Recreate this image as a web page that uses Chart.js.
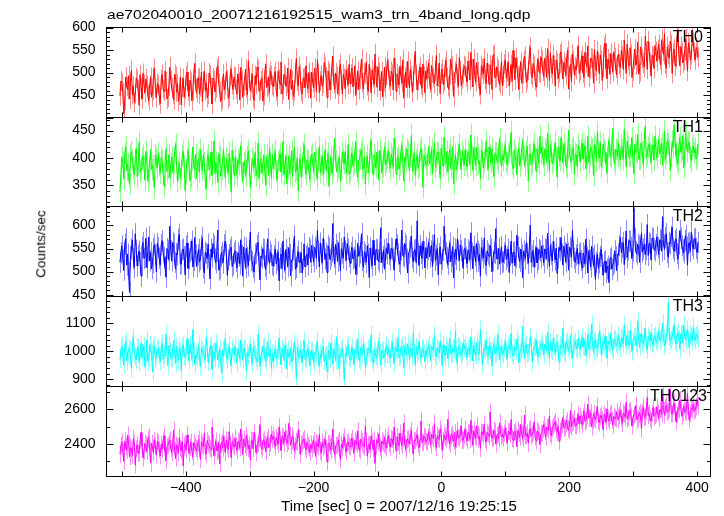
<!DOCTYPE html>
<html lang="en">
<head>
  <meta charset="UTF-8">
  <title>ae702040010 WAM light curve</title>
  <script src="https://cdn.jsdelivr.net/npm/chart.js"></script>
  <style>
    body { margin: 0; background: #fff; }
    #wrap { position: relative; width: 724px; height: 516px; font-family: "Liberation Sans", Arial, sans-serif; color: #000; }
    #wrap canvas { position: absolute; left: 0; top: 0; }
    .txt { position: absolute; white-space: nowrap; }
    #title { left: 107px; top: 9px; font-size: 12px; line-height: 12px; transform: scaleX(1.3); transform-origin: 0 0; }
    #ylab { left: 41px; top: 244px; font-size: 13.5px; line-height: 13.5px; transform: translate(-50%, -50%) rotate(-90deg); }
    #xlab { left: 399px; top: 498px; font-size: 15px; line-height: 15px; transform: translateX(-50%); }
    .plab { font-size: 16px; line-height: 16px; }
  </style>
</head>
<body>
  <div id="wrap">
    <canvas id="c0" width="724" height="516"></canvas>
    <canvas id="c1" width="724" height="516"></canvas>
    <canvas id="c2" width="724" height="516"></canvas>
    <canvas id="c3" width="724" height="516"></canvas>
    <canvas id="c4" width="724" height="516"></canvas>
    <div class="txt" id="title">ae702040010_20071216192515_wam3_trn_4band_long.qdp</div>
    <div class="txt" id="ylab">Counts/sec</div>
    <div class="txt" id="xlab">Time [sec] 0 = 2007/12/16 19:25:15</div>
  </div>

  <script>
    // time bins (sec from 2007/12/16 19:25:15)
    const binStart = -503;
    const binSize = 1.5;
    const xTickLabels = [-400, -200, 0, 200, 400];
    const xTickMarks = [-500, -400, -300, -200, -100, 0, 100, 200, 300, 400];

    const th0 = [
      448,481,475,456,408,437,490,469,462,493,441,478,505,451,470,433,452,488,483,462,427,495,466,441,498,474,455,486,471,450,437,472,489,445,460,491,509,466,444,476,
      472,449,431,484,496,463,458,503,480,441,445,470,512,482,466,452,439,496,491,457,475,436,450,489,428,468,487,445,463,492,501,460,447,483,478,437,459,498,520,465,
      455,486,489,452,468,501,436,479,503,460,477,444,451,499,494,465,430,488,482,457,466,509,515,476,458,435,440,483,497,461,471,502,484,442,447,493,508,474,462,490,
      490,463,452,497,478,439,511,482,445,470,483,507,466,451,526,487,459,477,497,444,438,493,474,512,505,458,462,481,488,436,449,498,519,467,471,489,456,503,494,472,
      468,491,502,459,447,503,485,474,523,452,461,496,492,469,476,510,440,485,507,462,483,447,459,499,531,481,470,513,496,458,452,487,488,466,515,476,464,500,478,443,
      501,478,466,510,489,457,528,497,455,481,494,469,477,522,512,490,444,503,498,461,482,514,536,475,463,499,491,452,470,507,519,484,452,496,487,464,506,489,473,518,
      475,496,510,468,492,515,449,483,503,462,486,508,530,477,463,499,497,524,471,458,518,490,455,506,489,474,541,493,467,513,500,459,481,502,446,480,512,466,494,527,
      509,484,470,503,496,461,532,511,458,497,487,472,514,493,477,528,443,489,501,466,525,480,466,507,492,456,480,519,547,495,461,482,498,512,473,465,519,491,455,504,
      486,508,521,477,462,516,499,489,475,503,538,470,490,521,453,497,508,474,481,512,527,488,469,463,495,530,514,482,447,498,502,519,488,469,533,505,471,486,497,515,
      512,491,479,526,505,483,545,508,468,530,494,479,522,502,486,469,451,515,509,496,531,484,475,521,498,473,517,506,462,538,540,488,489,513,506,481,473,499,524,470,
      493,519,528,487,501,524,470,498,517,480,549,511,484,533,510,492,462,505,523,476,497,527,536,509,478,486,505,540,556,496,489,520,514,482,468,512,530,501,499,535,
      527,503,491,532,515,489,553,520,482,544,509,497,538,516,470,528,521,486,499,541,546,507,486,523,512,494,534,549,463,511,518,480,541,526,495,513,506,535,560,498,
      504,526,537,499,489,545,522,513,559,490,508,532,531,518,476,551,515,503,548,524,497,539,528,482,511,557,565,509,486,530,520,496,543,519,502,546,533,510,495,536,
      541,518,510,549,536,507,572,529,498,563,527,515,555,540,489,503,530,552,516,524,568,496,502,557,539,531,521,512,581,546,507,570,545,523,492,538,534,509,560,547,
      525,551,563,528,517,573,548,540,586,519,509,557,541,532,570,562,498,544,552,515,531,579,590,536,515,558,546,521,527,549,575,533,503,566,556,527,538,581,569,545,
      528,556,551,534
    ];
    const th1 = [
      338,371,402,392,361,408,420,377,389,364,352,403,411,396,383,369,397,417,366,388,428,374,380,398,404,385,359,412,393,357,371,396,415,379,386,367,345,405,399,382,
      409,386,372,401,395,370,348,392,417,375,381,406,363,389,402,373,389,411,425,395,357,378,391,362,376,404,412,385,340,371,398,414,384,358,366,397,420,383,379,407,
      362,393,398,374,415,389,377,405,391,360,343,396,406,378,385,411,368,397,431,371,392,383,355,408,401,366,379,392,416,385,364,400,388,372,409,381,337,414,394,368,
      401,382,369,397,388,408,422,373,357,391,394,366,378,402,413,384,346,372,399,393,383,410,367,379,427,362,390,399,372,387,405,376,350,404,387,368,418,392,363,406,
      380,398,412,376,359,393,396,407,374,386,430,369,385,404,352,381,404,370,391,413,366,395,419,374,378,401,340,388,399,365,383,410,424,382,370,397,395,375,361,402,
      407,389,375,410,398,379,362,396,421,373,387,404,369,392,414,377,393,408,348,386,402,371,381,415,436,394,374,383,396,402,358,378,411,397,389,412,372,387,425,370,
      376,400,409,385,390,413,428,376,365,396,398,410,415,379,381,402,352,391,404,373,386,417,432,388,370,405,397,382,411,394,359,414,401,372,384,408,420,387,392,399,
      412,393,381,407,399,384,436,415,370,398,403,379,388,411,424,390,357,402,395,417,410,386,377,404,441,376,392,409,368,395,406,381,385,413,418,394,346,405,400,388,
      386,404,419,389,402,415,371,397,428,383,395,410,410,392,363,418,405,385,438,399,389,412,374,405,416,380,398,421,352,394,407,378,391,408,425,396,380,413,403,387,
      415,396,384,412,406,388,442,403,377,419,398,386,420,407,389,394,362,414,410,382,395,401,431,397,379,420,404,391,417,384,366,409,408,398,392,416,436,393,385,405,
      396,411,424,393,388,405,410,420,447,389,381,414,405,398,369,409,418,385,399,416,433,402,386,395,412,421,358,406,407,388,392,413,426,399,375,417,402,390,440,408,
      419,402,387,417,408,393,445,410,376,424,412,389,396,408,428,399,365,420,404,395,437,411,391,426,410,387,382,415,451,403,398,392,415,419,370,407,406,384,423,413,
      393,415,427,398,412,422,380,406,439,391,405,419,416,403,368,425,420,394,447,411,399,428,384,400,425,413,410,389,373,418,432,405,401,424,454,396,389,416,414,402,
      428,405,396,422,415,399,452,416,383,430,419,402,404,418,437,394,371,425,412,409,443,397,398,427,421,411,385,436,458,400,407,419,426,408,392,423,416,396,440,414,
      400,421,434,407,418,426,386,412,449,398,409,433,425,415,377,403,430,419,461,428,404,395,389,424,437,410,415,441,382,406,446,418,411,429,428,401,395,417,422,409,
      417,398,404,426
    ];
    const th2 = [
      520,541,556,525,503,560,571,514,538,497,455,532,549,568,527,509,582,546,512,535,544,519,490,553,563,528,531,572,508,544,575,523,541,506,519,550,558,537,499,561,
      552,529,514,558,567,541,530,511,488,550,545,526,598,545,523,563,559,520,506,539,536,570,581,516,517,547,549,532,493,555,562,507,528,543,547,566,510,524,574,535,
      511,537,548,521,526,556,573,508,497,542,539,528,560,515,484,549,531,561,555,527,519,544,590,503,507,533,542,518,524,558,566,538,492,525,536,547,553,511,515,540,
      545,522,508,541,533,516,569,535,490,553,527,509,551,531,513,546,586,524,521,510,499,538,540,557,563,519,482,534,529,549,548,512,505,537,571,526,518,543,536,515,
      512,534,549,517,525,543,480,529,538,506,566,521,503,548,531,511,552,537,491,525,524,549,577,505,509,532,544,519,520,541,497,527,560,510,533,538,514,552,547,520,
      557,535,521,553,546,528,589,544,510,562,538,519,572,547,527,539,498,556,551,526,534,543,604,531,516,559,545,522,563,538,502,550,540,529,575,545,524,561,548,533,
      518,541,553,527,530,546,494,515,561,533,540,556,582,524,509,543,537,520,556,538,487,551,529,512,568,536,514,548,547,526,521,542,595,519,532,547,505,531,550,539,
      562,537,526,551,549,529,503,544,571,558,538,522,516,547,590,535,532,561,555,527,497,540,544,553,577,531,521,546,548,519,610,538,513,556,539,528,566,543,508,552,
      529,548,564,532,545,557,511,541,580,524,536,550,493,539,553,516,527,546,598,559,541,530,515,544,562,521,534,553,486,538,549,526,571,545,524,558,545,533,507,549,
      550,531,518,547,543,526,584,540,506,555,535,521,561,544,522,537,490,552,546,529,573,518,513,545,538,533,557,548,499,524,542,539,593,527,528,550,516,541,554,520,
      521,540,557,526,532,549,498,535,566,518,541,543,512,531,579,554,530,522,549,537,487,545,536,528,563,539,518,552,601,520,534,546,509,533,552,519,526,548,545,530,
      556,535,519,549,547,528,583,544,511,557,538,523,566,542,525,551,496,530,552,546,574,538,514,555,541,521,560,540,503,553,548,532,589,545,529,520,536,550,517,537,
      541,524,508,540,534,517,570,531,497,546,526,510,555,529,512,536,483,520,538,507,519,533,549,515,492,521,523,498,506,512,476,527,531,505,514,519,545,532,502,538,
      536,556,574,541,552,563,515,548,588,530,547,567,565,552,528,544,636,571,543,538,559,555,520,566,583,542,549,559,537,547,602,535,562,560,525,573,571,549,545,558,
      575,552,537,569,566,545,619,558,548,574,582,541,531,563,560,577,596,550,544,566,571,539,527,560,589,572,556,547,540,568,578,553,514,561,563,544,585,557,549,570,
      572,550,541,563
    ];
    const th3 = [
      972,1008,1018,979,951,1022,1034,965,990,1011,1006,984,938,1027,1049,992,981,969,1012,1015,960,1001,1027,978,995,1019,943,988,1041,963,977,1024,1003,996,925,1010,1020,973,986,1005,
      1010,985,963,1016,1029,971,985,1004,1062,988,948,1021,1001,976,974,1009,1038,994,957,1018,992,968,1015,999,931,1013,1023,982,979,1006,1046,990,966,1025,997,975,1078,1002,952,987,
      975,1002,1021,978,946,1013,1003,991,988,970,1052,1007,961,985,1014,1020,935,996,997,973,1030,1010,969,987,1008,965,921,1004,984,1017,1043,983,972,998,1019,976,950,1011,1001,989,
      1016,981,959,1009,994,973,1040,997,971,1012,1007,968,928,994,983,1005,1025,979,956,1016,1003,990,977,963,1061,1002,944,986,992,1011,1019,975,962,999,1035,982,987,1008,940,992,
      965,992,1008,975,981,1003,1047,984,953,1010,996,971,1022,997,937,1006,979,980,1013,962,968,999,1031,987,902,1015,990,976,1005,993,957,1008,1039,970,974,995,1010,983,948,1001,
      1002,978,961,995,989,1007,1036,970,947,991,975,1013,1018,965,983,988,926,1003,997,974,1029,982,956,1009,994,968,1052,996,938,985,979,1005,1011,972,895,993,986,1012,1023,980,
      971,996,1014,981,953,1008,1005,990,1044,973,966,1015,992,987,1027,1001,940,978,983,1011,1009,994,1059,972,961,1006,998,983,977,1018,1036,992,950,1004,1002,976,986,999,1020,988,
      1013,989,975,1007,1032,984,958,1015,1004,998,1050,977,983,1010,1019,993,941,1021,996,985,1027,1002,969,1012,1008,981,1067,995,952,1016,990,1003,1035,987,976,1009,1011,992,963,1005,
      985,1009,1024,992,967,1018,1011,1001,1058,986,979,1013,1003,995,1036,1007,948,1022,997,984,1019,1004,972,1016,1045,990,991,1011,1007,997,1072,982,958,1019,1014,1003,983,994,1030,1010,
      1021,998,978,1014,1009,990,1051,1007,965,1023,996,985,1033,1011,987,1000,1078,1018,955,993,1012,1006,1040,988,981,1020,1004,999,947,1013,1027,991,993,1008,1061,1002,970,1016,1015,995,
      990,1012,1035,998,972,1021,1018,1005,1064,992,984,1017,1011,1003,1043,1026,958,996,1006,1014,1089,1001,977,1019,1024,990,995,1010,1052,1024,963,1000,1016,1015,1038,993,981,1008,1009,1020,
      1032,1010,988,1026,1021,1003,1069,1019,975,1033,1008,1001,1047,1017,996,1028,1029,1006,961,1022,1014,1012,1083,999,990,1030,1037,1014,1002,1024,1058,1005,972,1020,1025,1035,1011,1008,1046,1018,
      1008,1031,1049,1015,1017,1038,983,1022,1062,1006,1030,1040,1098,1019,996,1033,1041,1011,1012,1029,1071,1045,989,1016,1035,1026,1054,1009,975,1037,1027,1023,1066,1013,1003,1042,1044,1028,1019,1034,
      1057,1033,1012,1049,1046,1027,1093,1041,1021,1058,1039,1022,1075,1045,998,1035,1051,1052,1030,1019,1109,1040,1016,1061,1062,1031,1027,1047,1083,1024,1005,1053,1048,1036,1068,1029,1024,1050,1056,1038,
      1031,1055,1072,1038,1043,1064,1101,1047,1019,1033,1060,1069,1175,1051,1036,1042,1054,1067,1092,1036,1027,1058,1070,1045,1009,1062,1063,1029,1094,1053,1040,1071,1078,1044,1015,1059,1052,1037,1086,1050,
      1039,1057,1061,1044
    ];
    const th0123 = [
      2340,2391,2412,2352,2298,2417,2385,2363,2451,2398,2326,2379,2367,2334,2430,2406,2279,2371,2394,2345,2348,2420,2465,2386,2318,2358,2402,2395,2357,2427,2441,2366,2290,2403,2376,2349,2423,2389,2335,2414,
      2405,2367,2331,2398,2368,2418,2447,2355,2302,2386,2391,2409,2424,2372,2350,2401,2479,2361,2316,2394,2385,2348,2437,2377,2359,2415,2273,2389,2398,2364,2452,2402,2344,2380,2410,2356,2325,2408,2388,2374,
      2358,2402,2426,2371,2311,2413,2395,2384,2462,2357,2340,2420,2401,2392,2374,2366,2496,2405,2329,2381,2417,2359,2363,2411,2285,2393,2408,2376,2446,2400,2352,2423,2389,2368,2471,2397,2320,2414,2399,2383,
      2433,2389,2361,2416,2412,2378,2487,2407,2338,2428,2395,2382,2450,2411,2372,2394,2306,2421,2419,2373,2468,2409,2347,2391,2403,2430,2511,2385,2369,2413,2425,2398,2356,2420,2441,2379,2388,2404,2457,2426,
      2445,2418,2384,2439,2422,2397,2498,2425,2363,2446,2436,2403,2470,2431,2401,2412,2518,2450,2392,2416,2447,2427,2359,2389,2414,2411,2482,2434,2340,2395,2405,2420,2429,2383,2367,2408,2392,2376,2351,2399,
      2372,2397,2419,2369,2330,2408,2398,2383,2455,2359,2346,2412,2381,2394,2427,2375,2295,2401,2403,2386,2364,2416,2486,2362,2337,2391,2392,2404,2421,2371,2308,2399,2376,2413,2440,2380,2352,2405,2411,2387,
      2383,2412,2434,2388,2347,2419,2409,2396,2476,2374,2361,2427,2415,2402,2390,2381,2503,2415,2329,2393,2398,2368,2446,2410,2371,2424,2287,2386,2420,2405,2458,2379,2353,2417,2406,2398,2437,2390,2375,2421,
      2448,2403,2382,2431,2426,2395,2497,2419,2359,2442,2412,2387,2463,2414,2391,2436,2520,2399,2368,2425,2430,2408,2401,2447,2475,2389,2342,2421,2418,2435,2454,2397,2377,2428,2532,2406,2410,2444,2439,2413,
      2412,2441,2470,2423,2395,2456,2446,2430,2517,2409,2380,2449,2433,2427,2488,2462,2362,2419,2451,2438,2425,2452,2543,2415,2398,2444,2459,2431,2416,2465,2381,2426,2478,2436,2437,2457,2504,2421,2420,2447,
      2483,2438,2419,2464,2462,2427,2536,2455,2391,2476,2447,2433,2505,2458,2428,2442,2373,2470,2466,2451,2515,2425,2410,2467,2458,2444,2584,2459,2432,2436,2479,2472,2399,2449,2456,2430,2521,2461,2441,2453,
      2436,2462,2491,2447,2407,2473,2468,2452,2540,2431,2422,2466,2475,2444,2384,2478,2459,2439,2512,2457,2431,2471,2567,2448,2446,2463,2403,2480,2487,2445,2455,2467,2528,2440,2418,2474,2470,2453,2395,2460,
      2462,2485,2511,2470,2438,2497,2493,2478,2560,2459,2447,2491,2502,2515,2529,2482,2466,2501,2415,2474,2488,2508,2551,2490,2496,2519,2534,2487,2478,2511,2593,2499,2520,2526,2547,2506,2505,2531,2572,2514,
      2561,2538,2514,2556,2588,2529,2536,2563,2629,2547,2552,2581,2497,2535,2574,2550,2540,2568,2615,2532,2523,2555,2566,2541,2482,2572,2559,2528,2603,2546,2531,2565,2577,2537,2510,2558,2549,2543,2585,2553,
      2538,2566,2596,2549,2519,2578,2572,2555,2640,2543,2551,2586,2593,2561,2503,2548,2567,2574,2622,2539,2545,2569,2580,2557,2486,2582,2614,2552,2557,2590,2668,2564,2575,2545,2532,2577,2609,2558,2563,2571,
      2612,2579,2548,2598,2597,2571,2681,2593,2566,2610,2624,2583,2590,2602,2711,2576,2573,2614,2635,2588,2528,2569,2601,2596,2655,2607,2559,2580,2617,2591,2582,2618,2693,2586,2540,2575,2604,2599,2628,2589,
      2597,2615,2652,2621
    ];

    const seriesNames = ['TH0', 'TH1', 'TH2', 'TH3', 'TH0123'];
    const seriesValues = [th0, th1, th2, th3, th0123];
    const seriesErrors = [22, 20, 23, 32, 49];
    const seriesColors = ['#ff0000', '#00ff00', '#0000ff', '#00ffff', '#ff00ff'];
    const errorColors = ['#ff8c8c', '#8cff8c', '#8c8cff', '#8cffff', '#ff8cff'];
    const yRanges = [[400, 600], [311, 474], [446, 641], [874, 1196], [2212, 2731]];
    const yTickLabels = [[450, 500, 550, 600], [350, 400, 450], [450, 500, 550, 600], [900, 1000, 1100], [2400, 2600]];
    const yMajor = [50, 50, 50, 100, 200];
    const yMinor = [10, 10, 10, 20, 100];

    // layout of the stacked panels
    const W = 724, H = 516;
    const edges = [27.5, 117.5, 206.5, 296.5, 386.5, 476.5];
    const plotLeft = 106.5, plotRight = 710.5, xAxisH = 22;
    const labelRight = [703, 703, 703, 703, 707];

    Chart.defaults.font.family = '"Liberation Sans", Arial, sans-serif';
    Chart.defaults.color = '#000';

    const minus = v => (v < 0 ? '\u2212' + Math.abs(v) : String(v));

    function makePanel(i) {
      const values = seriesValues[i];
      const err = seriesErrors[i];
      const last = i === seriesValues.length - 1;

      const errorBars = {
        id: 'errorBars' + i,
        beforeDatasetsDraw(chart) {
          const ctx = chart.ctx, ca = chart.chartArea, ys = chart.scales.y;
          const pts = chart.getDatasetMeta(0).data;
          ctx.save();
          ctx.beginPath();
          ctx.rect(ca.left, ca.top, ca.right - ca.left, ca.bottom - ca.top);
          ctx.clip();
          ctx.strokeStyle = errorColors[i];
          ctx.lineWidth = 1;
          ctx.beginPath();
          pts.forEach((p, j) => {
            const x = Math.round(p.x) + 0.5;
            ctx.moveTo(x, ys.getPixelForValue(values[j] + err));
            ctx.lineTo(x, ys.getPixelForValue(values[j] - err));
          });
          ctx.stroke();
          ctx.restore();
        }
      };

      const frame = {
        id: 'frame' + i,
        afterDraw(chart) {
          const ctx = chart.ctx, ca = chart.chartArea;
          const xs = chart.scales.x, ys = chart.scales.y;
          ctx.save();
          ctx.strokeStyle = '#000';
          ctx.lineWidth = 1;
          ctx.beginPath();
          // y ticks, both sides
          const [lo, hi] = yRanges[i];
          for (let v = Math.ceil(lo / yMinor[i]) * yMinor[i]; v <= hi; v += yMinor[i]) {
            const y = Math.round(ys.getPixelForValue(v)) + 0.5;
            const len = v % yMajor[i] === 0 ? 7 : 3.5;
            ctx.moveTo(ca.left, y); ctx.lineTo(ca.left + len, y);
            ctx.moveTo(ca.right, y); ctx.lineTo(ca.right - len, y);
          }
          // x ticks, top and bottom
          xTickMarks.forEach(v => {
            const x = Math.round(xs.getPixelForValue(v)) + 0.5;
            ctx.moveTo(x, ca.top); ctx.lineTo(x, ca.top + 5);
            ctx.moveTo(x, ca.bottom); ctx.lineTo(x, ca.bottom - 5);
          });
          ctx.stroke();
          ctx.strokeRect(ca.left, ca.top, ca.right - ca.left, ca.bottom - ca.top);
          ctx.restore();
        }
      };

      new Chart(document.getElementById('c' + i), {
        type: 'line',
        data: {
          datasets: [{
            label: seriesNames[i],
            data: values.map((v, j) => ({ x: binStart + j * binSize, y: v })),
            borderColor: seriesColors[i],
            borderWidth: 1,
            pointRadius: 0,
            tension: 0,
            fill: false
          }]
        },
        options: {
          responsive: false,
          animation: false,
          events: [],
          layout: {
            padding: {
              top: edges[i],
              left: 0,
              right: W - plotRight,
              bottom: last ? H - edges[i + 1] - xAxisH : H - edges[i + 1]
            }
          },
          plugins: { legend: { display: false }, tooltip: { enabled: false } },
          scales: {
            x: {
              type: 'linear',
              min: -524,
              max: 421,
              display: last,
              afterBuildTicks: s => { s.ticks = xTickLabels.map(v => ({ value: v })); },
              afterFit: s => { s.height = last ? xAxisH : 0; },
              grid: { display: false, drawTicks: false },
              border: { display: false },
              ticks: { font: { size: 14 }, color: '#000', padding: 3, maxRotation: 0, autoSkip: false, callback: v => minus(v) }
            },
            y: {
              type: 'linear',
              min: yRanges[i][0],
              max: yRanges[i][1],
              afterBuildTicks: s => { s.ticks = yTickLabels[i].map(v => ({ value: v })); },
              afterFit: s => { s.width = plotLeft; },
              grid: { display: false, drawTicks: false },
              border: { display: false },
              ticks: { font: { size: 14 }, color: '#000', padding: 11, autoSkip: false, callback: v => String(v) }
            }
          }
        },
        plugins: [errorBars, frame]
      });

      const lab = document.createElement('div');
      lab.className = 'txt plab';
      lab.textContent = seriesNames[i];
      lab.style.right = (W - labelRight[i]) + 'px';
      lab.style.top = (edges[i] + 1.9) + 'px';
      document.getElementById('wrap').appendChild(lab);
    }

    seriesValues.forEach((_, i) => makePanel(i));
  </script>
</body>
</html>
